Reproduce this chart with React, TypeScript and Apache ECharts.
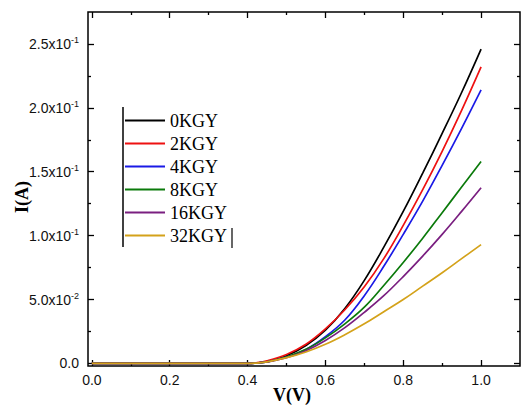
import React, { useEffect, useRef } from "react";
import * as echarts from "echarts";

const voltage = [0, 0.1, 0.2, 0.3, 0.4, 0.42, 0.45, 0.5, 0.55, 0.6, 0.65, 0.7, 0.75, 0.8, 0.85, 0.9, 0.95, 1.0];

const seriesNames = ["0KGY", "2KGY", "4KGY", "8KGY", "16KGY", "32KGY"];
const seriesColors = ["#000000", "#ee1111", "#1a1ae6", "#0b7a0b", "#7a1f80", "#d4a21a"];

const current0 = [0, 0, 0, 0, 0, 0.0003, 0.0015, 0.006, 0.014, 0.026, 0.043, 0.065, 0.091, 0.119, 0.149, 0.18, 0.212, 0.246];
const current2 = [0, 0, 0, 0, 0, 0.0004, 0.002, 0.007, 0.015, 0.027, 0.042, 0.06, 0.082, 0.108, 0.136, 0.166, 0.198, 0.232];
const current4 = [0, 0, 0, 0, 0, 0.0003, 0.0012, 0.005, 0.011, 0.021, 0.034, 0.053, 0.076, 0.101, 0.127, 0.155, 0.184, 0.214];
const current8 = [0, 0, 0, 0, 0, 0.0003, 0.0012, 0.005, 0.011, 0.02, 0.031, 0.044, 0.061, 0.079, 0.098, 0.118, 0.138, 0.158];
const current16 = [0, 0, 0, 0, 0, 0.0003, 0.0012, 0.0045, 0.01, 0.018, 0.028, 0.04, 0.053, 0.068, 0.084, 0.101, 0.119, 0.1375];
const current32 = [0, 0, 0, 0, 0, 0.0003, 0.0012, 0.0045, 0.009, 0.015, 0.0225, 0.031, 0.0405, 0.05, 0.0605, 0.071, 0.082, 0.093];
const currents = [current0, current2, current4, current8, current16, current32];

const xMajorTicks = [0, 0.2, 0.4, 0.6, 0.8, 1.0];
const xMinorTicks = [0.1, 0.3, 0.5, 0.7, 0.9];
const yMajorTicks = [0, 0.05, 0.1, 0.15, 0.2, 0.25];
const yMantissa = ["0.0", "5.0", "1.0", "1.5", "2.0", "2.5"];
const yExponent = ["", "-2", "-1", "-1", "-1", "-1"];
const yMinorTicks = [0.025, 0.075, 0.125, 0.175, 0.225];

const X_MIN = -0.01;
const X_MAX = 1.1;
const Y_MIN = -0.002;
const Y_MAX = 0.275;

const labelFont = "'Liberation Sans', Arial, sans-serif";
const serifFont = "'Liberation Serif', 'Times New Roman', serif";

export default function App() {
  const ref = useRef<HTMLDivElement>(null);
  useEffect(() => {
    if (!ref.current) return;
    const chart = echarts.init(ref.current, null, { renderer: "svg" });

    const xAxisBase = (position: string, ticks: number[], len: number, showLabel: boolean) => ({
      type: "value",
      position,
      min: X_MIN,
      max: X_MAX,
      axisLine: { show: false, onZero: false },
      splitLine: { show: false },
      axisTick: { show: true, inside: true, length: len, customValues: ticks, lineStyle: { color: "#000", width: 1.3 } },
      axisLabel: showLabel
        ? {
            show: true,
            customValues: ticks,
            margin: 7,
            fontSize: 14,
            fontFamily: labelFont,
            color: "#111",
            formatter: (v: number) => v.toFixed(1),
          }
        : { show: false },
    });

    const yAxisBase = (position: string, ticks: number[], len: number, showLabel: boolean) => ({
      type: "value",
      position,
      min: Y_MIN,
      max: Y_MAX,
      axisLine: { show: false, onZero: false },
      splitLine: { show: false },
      axisTick: { show: true, inside: true, length: len, customValues: ticks, lineStyle: { color: "#000", width: 1.3 } },
      axisLabel: showLabel
        ? {
            show: true,
            customValues: ticks,
            margin: 9,
            fontSize: 14,
            fontFamily: labelFont,
            color: "#111",
            formatter: (v: number) => {
              const i = yMajorTicks.findIndex((t) => Math.abs(t - v) < 1e-9);
              if (i < 0) return "";
              if (!yExponent[i]) return `{m|${yMantissa[i]}}`;
              return `{m|${yMantissa[i]}x10}{s|${yExponent[i]}}`;
            },
            rich: {
              m: { fontSize: 14, fontFamily: labelFont, color: "#111", lineHeight: 16 },
              s: { fontSize: 9, fontFamily: labelFont, color: "#111", lineHeight: 10, verticalAlign: "top" },
            },
          }
        : { show: false },
    });

    const option: any = {
      animation: false,
      backgroundColor: "#ffffff",
      grid: {
        left: 88,
        top: 12,
        right: 1,
        bottom: 39,
        show: true,
        borderColor: "#000",
        borderWidth: 1.5,
        backgroundColor: "transparent",
      },
      xAxis: [
        xAxisBase("bottom", xMajorTicks, 6, true),
        xAxisBase("top", xMajorTicks, 6, false),
        xAxisBase("top", xMinorTicks, 3, false),
        xAxisBase("bottom", xMinorTicks, 3, false),
      ],
      yAxis: [
        yAxisBase("left", yMajorTicks, 6, true),
        yAxisBase("right", yMajorTicks, 6, false),
        yAxisBase("right", yMinorTicks, 3, false),
        yAxisBase("left", yMinorTicks, 3, false),
      ],
      legend: {
        orient: "vertical",
        left: 125,
        top: 109,
        padding: 0,
        itemGap: 0,
        itemWidth: 40,
        itemHeight: 2,
        icon: "rect",
        data: seriesNames,
        textStyle: { fontFamily: serifFont, fontSize: 18, color: "#000", lineHeight: 23 },
      },
      graphic: [
        { type: "line", shape: { x1: 123, y1: 107, x2: 123, y2: 247 }, style: { stroke: "#000", lineWidth: 1.5 } },
        { type: "line", shape: { x1: 232, y1: 228, x2: 232, y2: 248 }, style: { stroke: "#000", lineWidth: 1.2 } },
        {
          type: "text",
          x: 292,
          y: 395,
          style: { text: "V(V)", fontFamily: serifFont, fontWeight: "bold", fontSize: 18, fill: "#000", align: "center", verticalAlign: "middle" },
        },
        {
          type: "text",
          x: 22,
          y: 197,
          rotation: Math.PI / 2,
          style: { text: "I(A)", fontFamily: serifFont, fontWeight: "bold", fontSize: 18, fill: "#000", align: "center", verticalAlign: "middle" },
        },
      ],
      series: seriesNames.map((name, si) => ({
        name,
        type: "line",
        xAxisIndex: 0,
        yAxisIndex: 0,
        showSymbol: false,
        symbol: "none",
        smooth: 0.4,
        color: seriesColors[si],
        lineStyle: { color: seriesColors[si], width: 1.7 },
        data: voltage.map((v, i) => [v, currents[si][i]]),
      })),
    };

    chart.setOption(option);
    return () => chart.dispose();
  }, []);

  return <div ref={ref} style={{ position: "absolute", left: 0, top: 0, width: 521, height: 405 }} />;
}
